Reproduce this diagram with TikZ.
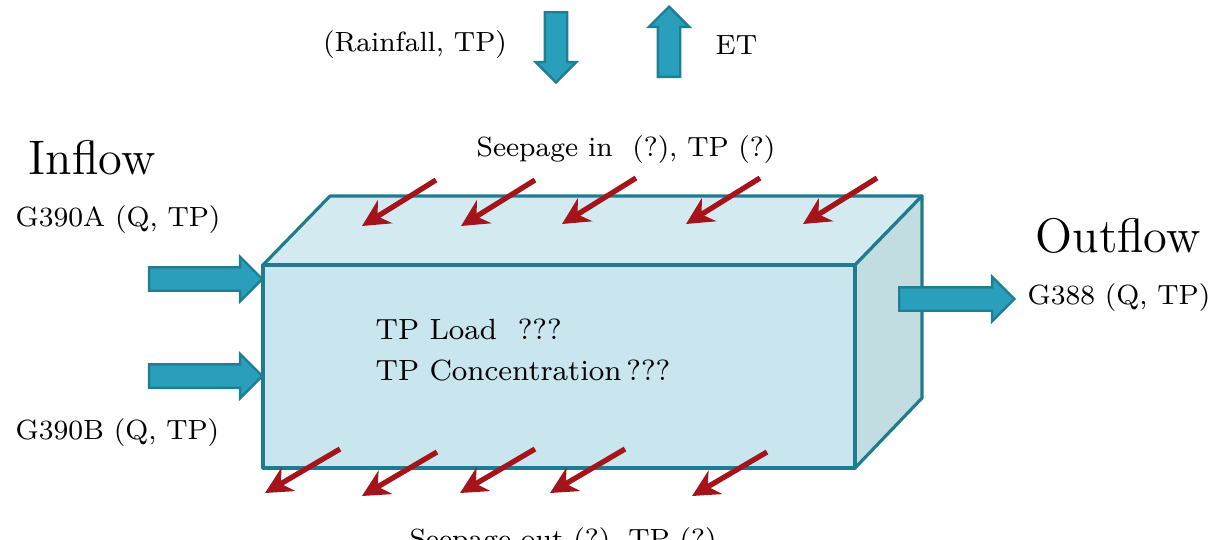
\documentclass[tikz,border=0pt]{standalone}
\usetikzlibrary{shapes.arrows,arrows.meta}

\definecolor{edgeteal}{HTML}{1F7C8E}
\definecolor{frontblue}{HTML}{C9E6EE}
\definecolor{topblue}{HTML}{D3EBF0}
\definecolor{sideblue}{HTML}{C2DDE2}
\definecolor{flowfill}{HTML}{2A9FBB}
\definecolor{flowdraw}{HTML}{1E7F94}
\definecolor{seepred}{HTML}{A5141B}

\tikzset{
  flow/.style={single arrow, draw=flowdraw, fill=flowfill, line width=0.7pt,
    inner sep=0pt, inner ysep=1.05mm, minimum width=4.2mm,
    single arrow head extend=1.05mm},
  vflow/.style={flow, inner ysep=0pt, inner xsep=1mm, minimum height=7mm,
    minimum width=3.8mm, single arrow head extend=0.9mm},
  seep/.style={draw=seepred, line width=1.5pt, -{Stealth[length=2.7mm,width=2.7mm]}},
  small/.style={inner sep=0pt, font=\fontsize{7.9}{10}\selectfont},
  big/.style={inner sep=0pt, font=\fontsize{13.8}{16}\selectfont}
}

\begin{document}
\begin{tikzpicture}[x=0.01cm,y=-0.01cm]
\useasboundingbox (0,0) rectangle (1216,539);
\clip (0,0) rectangle (1216,539);

% the box
\coordinate (fbl) at (263,468);
\coordinate (fbr) at (855,468);
\coordinate (ftr) at (855,265);
\coordinate (ftl) at (263,265);
\coordinate (btl) at (330,196);
\coordinate (btr) at (922,196);
\coordinate (bbr) at (922,398);
\filldraw[fill=topblue, draw=edgeteal, line width=0.9pt, line join=round]
  (ftl) -- (btl) -- (btr) -- (ftr) -- cycle;
\filldraw[fill=sideblue, draw=edgeteal, line width=0.9pt, line join=round]
  (ftr) -- (btr) -- (bbr) -- (fbr) -- cycle;
\filldraw[fill=frontblue, draw=edgeteal, line width=0.9pt, line join=round]
  (fbl) rectangle (ftr);

% rain and ET
\node[vflow, shape border rotate=270, anchor=tail] (rain) at (556,11) {};
\node[vflow, shape border rotate=90, anchor=tail] (et) at (669,78) {};
\node[small] (rainlbl) at (415,45) {(Rainfall, TP)};
\node[small, anchor=west] (etlbl) at (715,45) {ET};

% inflows
\node[flow, minimum height=11.3mm, anchor=tip] (ina) at (264,279) {};
\node[flow, minimum height=11.3mm, anchor=tip] (inb) at (264,376) {};
\node[big, anchor=west] (inflow) at (28,158) {Inflow};
\node[small, anchor=west] (ga) at (15,220) {G390A (Q, TP)};
\node[small, anchor=west] (gb) at (15,433) {G390B (Q, TP)};

% outflow
\node[flow, minimum height=11.5mm, anchor=tail] (outa) at (898,299) {};
\node[big, anchor=west] (outflow) at (1035,236) {Outflow};
\node[small, anchor=west] (gc) at (1027,298) {G388 (Q, TP)};

% inside the box
\node[small, anchor=west, align=left, font=\fontsize{8.3}{11.4}\selectfont]
  (load) at (375,350) {TP Load\ \ ???\\TP Concentration\,???};

% seepage
\node[small] (seepin) at (626,150) {Seepage in\ \ (?), TP (?)};
\node[small] (seepout) at (563,542) {Seepage out (?), TP (?)};
\foreach \x/\y [count=\i] in {436/180, 535/180, 636/178, 760/178, 877/178}{
  \coordinate (ti\i) at (\x,\y);
  \coordinate (hi\i) at (\x-74,\y+46);
  \draw[seep] (ti\i) -- (hi\i);
}
\foreach \x/\y [count=\i] in {340/449, 437/452, 535/449, 625/449, 767/452}{
  \coordinate (to\i) at (\x,\y);
  \coordinate (ho\i) at (\x-75,\y+44);
  \draw[seep] (to\i) -- (ho\i);
}
\end{tikzpicture}
\end{document}
